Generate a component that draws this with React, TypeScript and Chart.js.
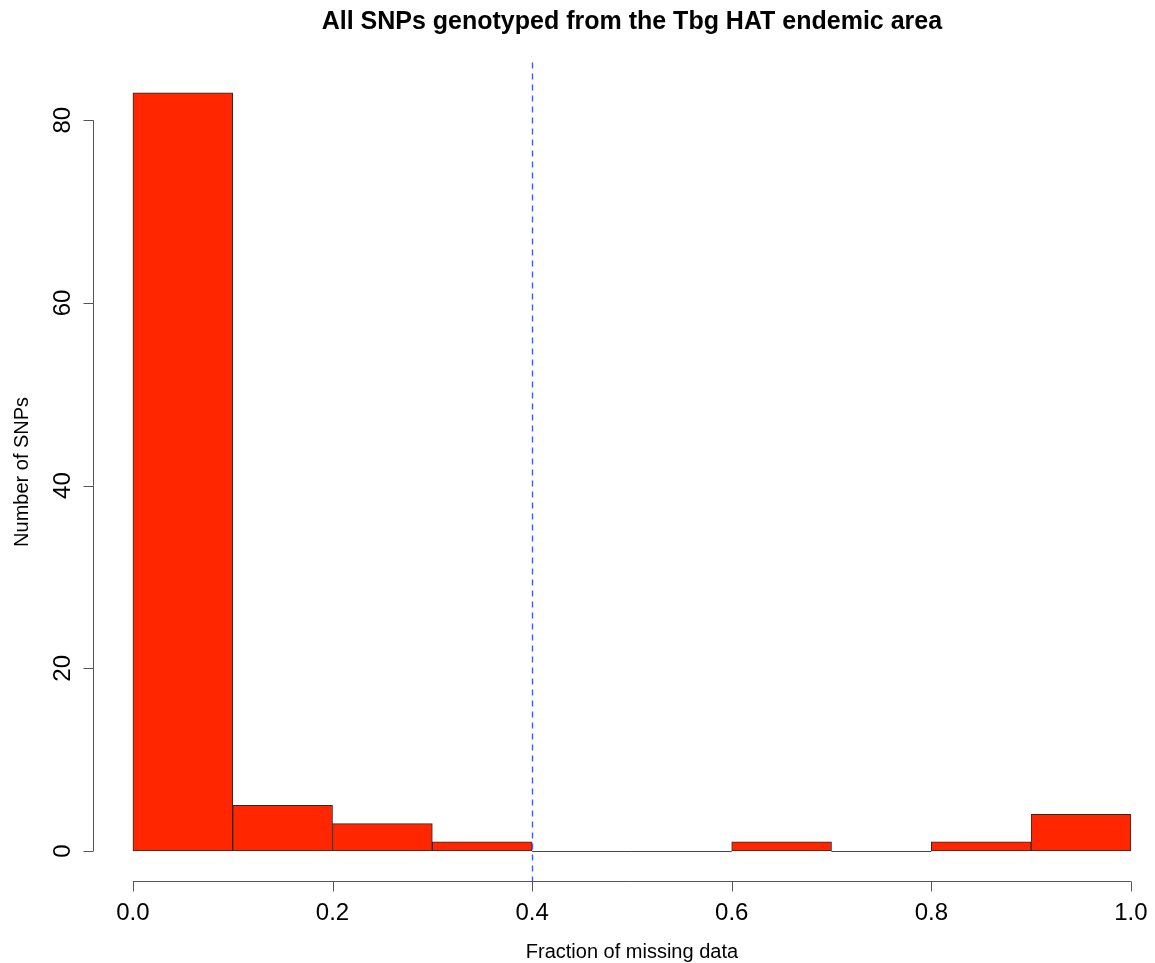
import React, { useEffect, useRef } from "react";
import { Chart, registerables } from "chart.js";

Chart.register(...registerables);

const binStarts = [0, 0.1, 0.2, 0.3, 0.4, 0.5, 0.6, 0.7, 0.8, 0.9];
const binWidth = 0.1;
const counts = [83, 5, 3, 1, 0, 0, 1, 0, 1, 4];
const xTicks = [0, 0.2, 0.4, 0.6, 0.8, 1.0];
const xTickLabels = ["0.0", "0.2", "0.4", "0.6", "0.8", "1.0"];
const yTicks = [0, 20, 40, 60, 80];
const yTickLabels = ["0", "20", "40", "60", "80"];
const cutoff = 0.4;
const titleText = "All SNPs genotyped from the Tbg HAT endemic area";
const xLabel = "Fraction of missing data";
const yLabel = "Number of SNPs";

const FONT = "'Liberation Sans', Arial, Helvetica, sans-serif";

const rPlugin = {
  id: "rStyle",
  afterDatasetsDraw(chart: any) {
    const ctx = chart.ctx;
    const xs = chart.scales.x;
    const ys = chart.scales.y;
    const area = chart.chartArea;
    ctx.save();
    // zero-height bins drawn as baseline lines
    ctx.strokeStyle = "#444";
    ctx.lineWidth = 1;
    const y0 = Math.round(ys.getPixelForValue(0)) + 0.5;
    counts.forEach((c, i) => {
      if (c === 0) {
        ctx.beginPath();
        ctx.moveTo(xs.getPixelForValue(binStarts[i]), y0);
        ctx.lineTo(xs.getPixelForValue(binStarts[i] + binWidth), y0);
        ctx.stroke();
      }
    });
    // dashed cutoff line
    ctx.strokeStyle = "#3a5cff";
    ctx.lineWidth = 1.4;
    ctx.setLineDash([6, 5]);
    const xc = Math.round(xs.getPixelForValue(cutoff)) + 0.5;
    ctx.beginPath();
    ctx.moveTo(xc, area.top);
    ctx.lineTo(xc, area.bottom);
    ctx.stroke();
    ctx.setLineDash([]);

    // axes
    ctx.strokeStyle = "#555";
    ctx.lineWidth = 1;
    const axY = Math.round(area.bottom) + 0.5;
    const axX = Math.round(area.left) + 0.5;
    ctx.beginPath();
    ctx.moveTo(xs.getPixelForValue(xTicks[0]), axY);
    ctx.lineTo(xs.getPixelForValue(xTicks[xTicks.length - 1]), axY);
    xTicks.forEach((t) => {
      const px = Math.round(xs.getPixelForValue(t)) + 0.5;
      ctx.moveTo(px, axY);
      ctx.lineTo(px, axY + 10);
    });
    ctx.moveTo(axX, ys.getPixelForValue(yTicks[0]));
    ctx.lineTo(axX, ys.getPixelForValue(yTicks[yTicks.length - 1]));
    yTicks.forEach((t) => {
      const py = Math.round(ys.getPixelForValue(t)) + 0.5;
      ctx.moveTo(axX, py);
      ctx.lineTo(axX - 10, py);
    });
    ctx.stroke();

    // tick labels
    ctx.fillStyle = "#000";
    ctx.font = `24px ${FONT}`;
    ctx.textAlign = "center";
    ctx.textBaseline = "alphabetic";
    xTicks.forEach((t, i) => {
      ctx.fillText(xTickLabels[i], xs.getPixelForValue(t), 920);
    });
    yTicks.forEach((t, i) => {
      ctx.save();
      ctx.translate(70, ys.getPixelForValue(t));
      ctx.rotate(-Math.PI / 2);
      ctx.fillText(yTickLabels[i], 0, 0);
      ctx.restore();
    });

    // axis labels
    const cx = (area.left + xs.getPixelForValue(1.04)) / 2;
    ctx.font = `20px ${FONT}`;
    ctx.fillText(xLabel, cx, 958);
    ctx.save();
    ctx.translate(28, (area.top + area.bottom) / 2);
    ctx.rotate(-Math.PI / 2);
    ctx.fillText(yLabel, 0, 0);
    ctx.restore();

    // title
    ctx.font = `bold 25px ${FONT}`;
    ctx.fillText(titleText, cx, 29);
    ctx.restore();
  },
};

export default function App() {
  const ref = useRef<HTMLCanvasElement>(null);
  useEffect(() => {
    if (!ref.current) return;
    const chart = new Chart(ref.current, {
      type: "bar",
      data: {
        datasets: [
          {
            data: binStarts.map((b, i) => ({ x: b + binWidth / 2, y: counts[i] })),
            backgroundColor: "#ff2600",
            borderColor: "#2a2a2a",
            borderWidth: 1,
            borderSkipped: false,
            barPercentage: 1,
            categoryPercentage: 1,
          },
        ],
      },
      options: {
        animation: false,
        responsive: false,
        devicePixelRatio: 1,
        layout: { padding: { left: 93, right: 14, top: 62.5, bottom: 81.7 } },
        plugins: { legend: { display: false }, tooltip: { enabled: false }, title: { display: false } },
        scales: {
          x: { type: "linear", min: -0.04, max: -0.04 + 1048 / 998, display: false, offset: false },
          y: { type: "linear", min: -3.32, max: 86.32, display: false },
        },
      },
      plugins: [rPlugin],
    });
    return () => chart.destroy();
  }, []);
  return (
    <div style={{ position: "fixed", left: 0, top: 0, width: 1155, height: 963, background: "#fff" }}>
      <canvas ref={ref} width={1155} height={963} />
    </div>
  );
}
